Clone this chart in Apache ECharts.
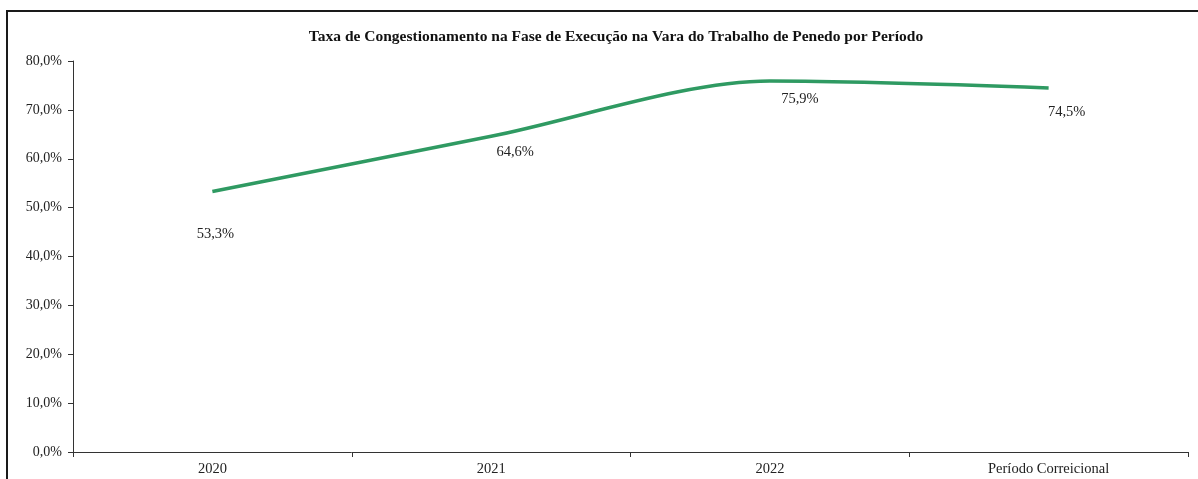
<!DOCTYPE html>
<html>
<head>
<meta charset="utf-8">
<script src="https://cdn.jsdelivr.net/npm/echarts@6/dist/echarts.min.js"></script>
<style>
  html, body { margin: 0; padding: 0; background: #fff; }
  #chart { width: 1198px; height: 479px; }
</style>
</head>
<body>
<div id="chart"></div>
<script>
// Períodos e taxas de congestionamento (%)
const categories = ['2020', '2021', '2022', 'Período Correicional'];
const taxa = [53.3, 64.6, 75.9, 74.5];
// Deslocamento de cada rótulo em relação ao ponto
const labelOffsets = [[3, 43], [24, 16], [30, 18], [18, 24]];

const serif = '"Liberation Serif", "DejaVu Serif", serif';
const fmt = v => v.toFixed(1).replace('.', ',') + '%';

const chart = echarts.init(document.getElementById('chart'));
chart.setOption({
  animation: false,
  backgroundColor: '#fff',
  title: {
    text: 'Taxa de Congestionamento na Fase de Execução na Vara do Trabalho de Penedo por Período',
    left: 611, top: 24, textAlign: 'center',
    textStyle: { fontFamily: serif, fontSize: 15.5, fontWeight: 'bold', color: '#111' }
  },
  graphic: [{
    type: 'rect',
    shape: { x: 7, y: 11, width: 1210, height: 500 },
    style: { fill: 'none', stroke: '#1a1a1a', lineWidth: 2 },
    silent: true
  }],
  grid: { left: 73, right: 10, top: 61, bottom: 27 },
  xAxis: {
    type: 'category',
    data: categories,
    boundaryGap: true,
    axisLine: { lineStyle: { color: '#333', width: 1 } },
    axisTick: { show: true, length: 5, inside: false, lineStyle: { color: '#333' } },
    axisLabel: { fontFamily: serif, fontSize: 14.5, color: '#222', margin: 10 }
  },
  yAxis: {
    type: 'value',
    min: 0, max: 80, interval: 10,
    axisLine: { show: true, lineStyle: { color: '#333', width: 1 } },
    axisTick: { show: true, length: 5, lineStyle: { color: '#333' } },
    splitLine: { show: false },
    axisLabel: { fontFamily: serif, fontSize: 14, color: '#222', margin: 11, formatter: v => fmt(v) }
  },
  series: [{
    type: 'line',
    data: taxa.map((v, i) => ({
      value: v,
      label: { offset: labelOffsets[i] }
    })),
    smooth: 0.3,
    showSymbol: true,
    symbol: 'circle',
    symbolSize: 0.1,
    itemStyle: { color: 'rgba(0,0,0,0)' },
    lineStyle: { color: '#2f9a62', width: 3.5 },
    label: {
      show: true,
      position: 'inside',
      fontFamily: serif, fontSize: 14.5, color: '#222',
      formatter: p => fmt(p.value)
    }
  }]
});
</script>
</body>
</html>
